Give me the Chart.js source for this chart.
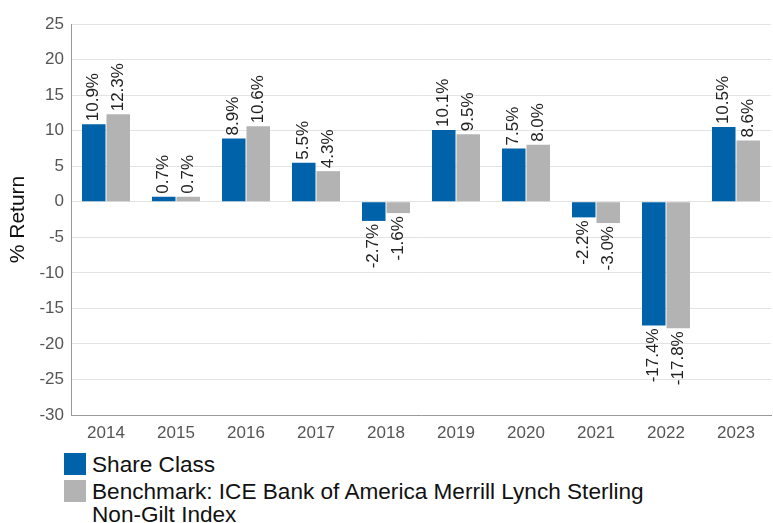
<!DOCTYPE html>
<html>
<head>
<meta charset="utf-8">
<script src="https://cdn.jsdelivr.net/npm/chart.js@4/dist/chart.umd.min.js"></script>
<style>
  body { margin: 0; background: #fff; font-family: "Liberation Sans", Arial, sans-serif; }
  #wrap { position: relative; width: 773px; height: 523px; }
  #legend { position: absolute; left: 64px; top: 453px; }
  .item { position: relative; padding-left: 28px; font-size: 22.6px; line-height: 23px; color: #111; margin-bottom: 4px; white-space: nowrap; }
  .box { position: absolute; left: 0; top: 0; width: 22px; height: 22px; }
</style>
</head>
<body>
<div id="wrap">
  <canvas id="myChart" width="773" height="445"></canvas>
  <div id="legend"></div>
</div>
<script>
const years = ["2014", "2015", "2016", "2017", "2018", "2019", "2020", "2021", "2022", "2023"];
const shareClass = [10.9, 0.7, 8.9, 5.5, -2.7, 10.1, 7.5, -2.2, -17.4, 10.5];
const benchmark = [12.3, 0.7, 10.6, 4.3, -1.6, 9.5, 8.0, -3.0, -17.8, 8.6];
const seriesNames = ["Share Class", "Benchmark: ICE Bank of America Merrill Lynch Sterling<br>Non-Gilt Index"];
const seriesColors = ["#0062a8", "#b3b3b3"];

// rotated value labels on the bar ends
const barLabels = {
    id: "barLabels",
    afterDatasetsDraw(chart) {
        const ctx = chart.ctx;
        ctx.save();
        ctx.font = "17px 'Liberation Sans', Arial, sans-serif";
        ctx.fillStyle = "#222";
        ctx.textBaseline = "middle";
        chart.data.datasets.forEach(function (ds, i) {
            chart.getDatasetMeta(i).data.forEach(function (bar, j) {
                const v = ds.data[j];
                ctx.save();
                if (v >= 0) {
                    ctx.translate(bar.x, bar.y - 3);
                    ctx.rotate(-Math.PI / 2);
                    ctx.textAlign = "left";
                } else {
                    ctx.translate(bar.x, bar.y + 3);
                    ctx.rotate(-Math.PI / 2);
                    ctx.textAlign = "right";
                }
                ctx.fillText(v.toFixed(1) + "%", 0, 0);
                ctx.restore();
            });
        });
        ctx.restore();
    }
};

var chart = new Chart("myChart", {
    type: "bar",
    data: {
        labels: years,
        datasets: [
            { label: seriesNames[0], data: shareClass, backgroundColor: seriesColors[0] },
            { label: seriesNames[1], data: benchmark, backgroundColor: seriesColors[1] }
        ]
    },
    options: {
        responsive: false,
        animation: false,
        categoryPercentage: 0.7,
        barPercentage: 0.96,
        layout: { padding: { top: 24, right: 2, left: 0, bottom: 0 } },
        plugins: { legend: { display: false }, tooltip: { enabled: false } },
        scales: {
            x: {
                grid: { display: false, drawTicks: false },
                border: { color: "#999" },
                ticks: { color: "#555", padding: 8, font: { size: 17, family: "'Liberation Sans', Arial" } },
                afterFit: function (s) { s.height = 30; }
            },
            y: {
                min: -30,
                max: 25,
                ticks: { stepSize: 5, color: "#555", padding: 7, font: { size: 17, family: "'Liberation Sans', Arial" } },
                grid: { color: "#e3e3e3", drawTicks: false },
                border: { color: "#999" },
                title: { display: true, text: "% Return", color: "#111", padding: { top: 6, bottom: 0 }, font: { size: 21, family: "'Liberation Sans', Arial" } },
                afterFit: function (s) { s.width = 71; }
            }
        }
    },
    plugins: [barLabels]
});

// legend below the chart, with wrapping text
var legend = document.getElementById("legend");
seriesNames.forEach(function (name, i) {
    var item = document.createElement("div");
    item.className = "item";
    item.innerHTML = '<span class="box" style="background:' + seriesColors[i] + '"></span>' + name;
    legend.appendChild(item);
});
</script>
</body>
</html>
